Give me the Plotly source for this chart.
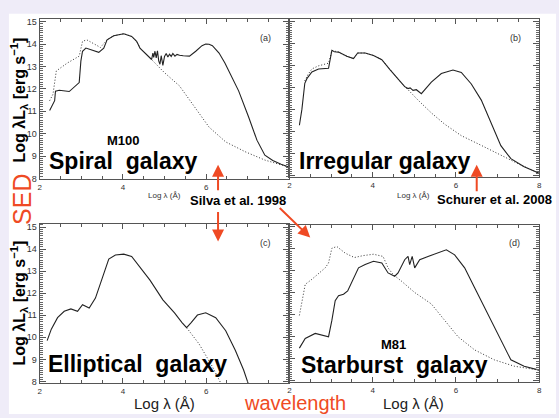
import plotly.graph_objects as go

W, H = 559, 418

# ---------------- data (log lambda [A], log lambda L_lambda [erg/s]) ----------------
a_solid_x = [2.24, 2.36, 2.38, 2.47, 2.71, 2.87, 2.95, 2.99, 3.03, 3.11, 3.23, 3.42, 3.54, 3.62, 3.78,
             4.02, 4.21, 4.33, 4.41, 4.57, 4.69, 4.72, 4.74, 4.77, 4.80, 4.83, 4.86, 4.89, 4.92, 4.96,
             5.00, 5.04, 5.08, 5.12, 5.16, 5.20, 5.25, 5.30, 5.36, 5.45, 5.60, 5.75, 5.90, 5.99, 6.07,
             6.15, 6.31, 6.45, 6.55, 6.78, 7.02, 7.22, 7.41, 7.60, 7.80, 8.00]
a_solid_y = [11.03, 11.47, 11.90, 11.94, 11.88, 12.13, 12.28, 13.24, 13.68, 13.82, 13.75, 13.63, 13.82, 14.19, 14.37,
             14.46, 14.34, 14.12, 13.82, 13.53, 13.31, 13.60, 13.40, 13.68, 13.38, 13.70, 13.25, 13.10, 13.48, 13.05,
             13.45, 13.58, 13.42, 13.55, 13.45, 13.58, 13.46, 13.54, 13.50, 13.48, 13.46, 13.68, 13.93, 14.00, 13.99,
             13.93, 13.60, 13.15, 12.79, 11.91, 10.74, 9.71, 9.04, 8.80, 8.63, 8.50]
a_dot_x = [2.24, 2.32, 2.40, 2.67, 2.95, 3.03, 3.13, 3.30, 3.46, 3.62, 3.78, 4.02, 4.21, 4.33, 4.41,
           4.57, 4.77, 5.00, 5.36, 5.68, 6.07, 6.47, 6.94, 7.41, 7.73, 8.00]
a_dot_y = [11.47, 11.76, 12.80, 13.16, 13.46, 14.12, 14.19, 14.00, 13.85, 14.19, 14.37, 14.46, 14.34, 14.12, 13.82,
           13.53, 13.16, 12.72, 12.13, 11.32, 10.29, 9.63, 9.19, 8.82, 8.65, 8.50]

b_solid_x = [2.24, 2.30, 2.37, 2.42, 2.54, 2.70, 2.94, 2.98, 3.02, 3.08, 3.18, 3.38, 3.54, 3.64, 3.82,
             4.02, 4.22, 4.41, 4.61, 4.77, 4.85, 4.90, 4.97, 5.05, 5.17, 5.41, 5.65, 5.93, 6.13, 6.37,
             6.61, 6.84, 7.08, 7.32, 7.64, 8.00]
b_solid_y = [10.29, 11.01, 12.19, 12.40, 12.70, 12.84, 12.87, 13.28, 13.68, 13.62, 13.60, 13.41, 13.31, 13.56, 13.56,
             13.45, 13.26, 12.82, 12.38, 12.04, 11.95, 11.98, 11.87, 11.90, 11.72, 12.24, 12.63, 12.79, 12.68, 12.16,
             11.43, 10.40, 9.37, 8.78, 8.41, 8.12]
b_dot_x = [2.37, 2.45, 2.54, 2.70, 2.86, 2.94, 2.98, 3.02, 3.18, 3.38, 3.54, 3.64, 3.82, 4.02, 4.22,
           4.41, 4.61, 4.77, 4.85, 5.09, 5.41, 5.73, 6.13, 6.61, 7.08, 7.56, 8.00]
b_dot_y = [12.30, 12.60, 12.84, 12.98, 13.06, 13.10, 13.35, 13.68, 13.60, 13.41, 13.31, 13.56, 13.56, 13.45, 13.26,
           12.82, 12.38, 12.04, 11.90, 11.43, 10.85, 10.34, 9.82, 9.38, 8.94, 8.49, 8.12]

c_solid_x = [2.18, 2.28, 2.43, 2.59, 2.75, 2.91, 3.03, 3.19, 3.34, 3.42, 3.54, 3.66, 3.82, 4.02, 4.21,
             4.41, 4.65, 4.96, 5.24, 5.42, 5.53, 5.64, 5.79, 5.99, 6.23, 6.47, 6.70, 6.90, 7.02]
c_solid_y = [9.85, 10.37, 10.89, 11.18, 11.29, 11.18, 11.48, 11.33, 11.78, 12.22, 12.96, 13.55, 13.73, 13.77, 13.67,
             13.18, 12.59, 11.70, 11.11, 10.67, 10.44, 10.67, 11.01, 11.11, 10.89, 10.30, 9.41, 8.52, 7.85]
c_dot_x = [5.53, 5.83, 6.15, 6.35]
c_dot_y = [10.44, 9.70, 8.67, 7.93]

d_solid_x = [2.24, 2.38, 2.62, 2.82, 2.94, 3.02, 3.06, 3.10, 3.18, 3.30, 3.40, 3.54, 3.66, 3.82, 4.02,
             4.22, 4.37, 4.53, 4.61, 4.77, 4.85, 4.89, 4.95, 5.01, 5.13, 5.33, 5.57, 5.77, 5.97, 6.21,
             6.45, 6.76, 7.08, 7.32, 7.64, 8.00]
d_solid_y = [9.49, 9.93, 10.16, 10.08, 10.01, 10.75, 11.13, 11.65, 11.87, 11.94, 12.09, 12.69, 13.14, 13.29, 13.44,
             13.36, 12.91, 12.76, 12.91, 13.51, 13.66, 13.29, 13.66, 13.14, 13.51, 13.66, 13.84, 13.96, 13.73, 13.14,
             12.24, 11.05, 9.86, 8.96, 8.67, 8.49]
d_dot_x = [2.24, 2.38, 2.54, 2.86, 2.94, 3.02, 3.14, 3.34, 3.56, 3.78, 4.02, 4.25, 4.37, 4.49, 4.69,
           5.01, 5.41, 5.73, 6.05, 6.45, 6.92, 7.40, 8.00]
d_dot_y = [10.98, 12.39, 12.62, 13.14, 13.36, 14.03, 14.11, 13.81, 13.61, 13.70, 13.76, 13.66, 13.14, 12.84, 12.54,
           12.02, 11.50, 10.75, 10.01, 9.41, 8.96, 8.67, 8.49]

panel_labels = ["(a)", "(b)", "(c)", "(d)"]
galaxy_names = ["Spiral  galaxy", "Irregular galaxy", "Elliptical  galaxy", "Starburst  galaxy"]

# ---------------- helpers ----------------
def px(x):
    return x / W

def py(y):
    return 1 - y / H

FONT = "Liberation Sans, Arial, sans-serif"
RED = "#ef4a24"
AX = "#555555"

fig = go.Figure()

series = [
    (a_solid_x, a_solid_y, a_dot_x, a_dot_y, "x", "y"),
    (b_solid_x, b_solid_y, b_dot_x, b_dot_y, "x2", "y2"),
    (c_solid_x, c_solid_y, c_dot_x, c_dot_y, "x3", "y3"),
    (d_solid_x, d_solid_y, d_dot_x, d_dot_y, "x4", "y4"),
]
for sx, sy, dx, dy, xa, ya in series:
    fig.add_trace(go.Scatter(x=dx, y=dy, mode="lines", xaxis=xa, yaxis=ya,
                             line=dict(color="#333333", width=1, dash="1px,2px"), showlegend=False))
    fig.add_trace(go.Scatter(x=sx, y=sy, mode="lines", xaxis=xa, yaxis=ya,
                             line=dict(color="#222222", width=1.1), showlegend=False))

# panel geometry in pixels: (left, right, top, bottom, yrange, hide x=8 label, show y labels)
panels = [
    (38, 290, 17, 180, [7.956, 15.13], True, True),
    (290, 542, 17, 178, [7.93, 15.11], False, False),
    (38, 290, 225, 387, [7.91, 15.147], True, True),
    (290, 542, 226, 386, [7.93, 15.10], False, False),
]

layout = {}
for i, (l, r, t, b, yr, hide8, showy) in enumerate(panels):
    sfx = "" if i == 0 else str(i + 1)
    xa = dict(
        domain=[px(l), px(r)], anchor="y" + sfx, range=[2, 8],
        tickmode="linear", tick0=2, dtick=2,
        ticks="inside", ticklen=5, tickcolor=AX, tickwidth=1,
        minor=dict(dtick=0.5, tick0=2, ticks="inside", ticklen=3, tickcolor=AX, tickwidth=1),
        showline=True, linecolor=AX, linewidth=1, mirror="allticks",
        showgrid=False, zeroline=False,
        tickfont=dict(family=FONT, size=8, color="#333333"),
    )
    if hide8:
        xa["labelalias"] = {"8": " "}
    layout["xaxis" + sfx] = xa
    layout["yaxis" + sfx] = dict(
        domain=[py(b), py(t)], anchor="x" + sfx, range=yr,
        tickmode="linear", tick0=8, dtick=1,
        showticklabels=showy,
        ticks="inside", ticklen=6, tickcolor=AX, tickwidth=1,
        minor=dict(dtick=0.1, tick0=8, ticks="inside", ticklen=3, tickcolor="#666666", tickwidth=1),
        showline=True, linecolor=AX, linewidth=1, mirror="allticks",
        showgrid=False, zeroline=False,
        tickfont=dict(family=FONT, size=9, color="#333333"),
    )

ann = []

def text(x, y, s, size, color="black", bold=False, angle=0, xanchor="center"):
    ann.append(dict(x=px(x), y=py(y), xref="paper", yref="paper", text=("<b>%s</b>" % s) if bold else s,
                    showarrow=False, xanchor=xanchor, yanchor="middle", textangle=angle,
                    font=dict(family=FONT, size=size, color=color)))

# panel letters
for (x, y), s in zip([(266, 37), (518, 37), (266, 245), (517, 245)], panel_labels):
    text(x, y, s, 9, color="#333333")

# galaxy names
for (x, y), s in zip([(123, 161), (386, 161), (137, 367), (396, 368)], galaxy_names):
    text(x, y, s, 23, bold=True)
text(123, 141, "M100", 13, bold=True)
text(395, 347, "M81", 13, bold=True)

# y axis titles
ylab = "Log λL<sub>λ</sub> [erg s<sup>−1</sup>]"
text(17, 99, ylab, 16, bold=True, angle=-90)
text(17, 305, ylab, 16, bold=True, angle=-90)

# small x labels (top panels) and references
text(164, 196, "Log λ (Å)", 8, color="#333333")
text(415, 196, "Log λ (Å)", 8, color="#333333")
text(238, 201, "Silva et al. 1998", 13, bold=True)
text(497, 200, "Schurer et al. 2008", 13, bold=True)

# bottom x labels
text(164, 407, "Log λ (Å)", 15, color="#222222")
text(415, 407, "Log λ (Å)", 15, color="#222222")

# red labels
text(20, 200, "SED", 25, color=RED, angle=-90)
text(296, 407, "wavelength", 20, color=RED)

# red arrows (tip position, tail offset in pixels)
def arrow(tx, ty, tailx, taily):
    ann.append(dict(x=px(tx), y=py(ty), xref="paper", yref="paper", text="", showarrow=True,
                    ax=tailx - tx, ay=taily - ty, axref="pixel", ayref="pixel",
                    arrowhead=2, arrowsize=1.2, arrowwidth=2, arrowcolor=RED, standoff=0))

arrow(218, 165, 218, 192)
arrow(218, 243, 218, 212)
arrow(311, 239, 279, 208)
arrow(479, 165, 479, 193)

shapes = [dict(type="rect", xref="paper", yref="paper", x0=px(7), x1=1.0, y0=0, y1=py(12),
               fillcolor="white", line=dict(width=0), layer="below")]

fig.update_layout(
    width=W, height=H,
    margin=dict(l=0, r=0, t=0, b=0),
    paper_bgcolor="#efecf8",
    plot_bgcolor="rgba(0,0,0,0)",
    annotations=ann,
    shapes=shapes,
    showlegend=False,
    **layout,
)

fig.write_html("out.html")
